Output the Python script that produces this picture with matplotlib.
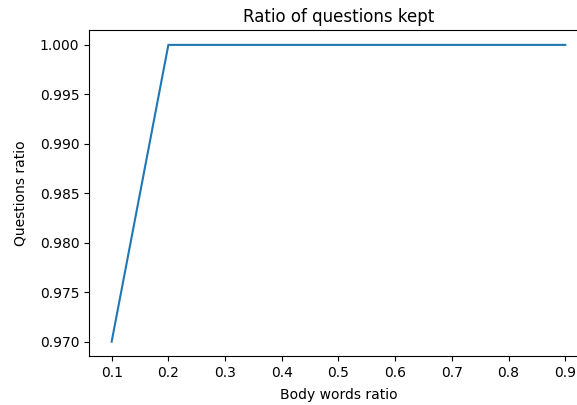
import matplotlib
matplotlib.use("Agg")
import matplotlib.pyplot as plt

body_words_ratio = [0.1, 0.2, 0.3, 0.4, 0.5, 0.6, 0.7, 0.8, 0.9]
questions_ratio = [0.970, 1.0, 1.0, 1.0, 1.0, 1.0, 1.0, 1.0, 1.0]

fig = plt.figure(figsize=(5.77, 4.05), dpi=100)
ax = fig.add_axes([0.1542, 0.1198, 0.8648, 0.806])
ax.plot(body_words_ratio, questions_ratio, color="#1f77b4")
ax.set_title("Ratio of questions kept")
ax.set_xlabel("Body words ratio", labelpad=5.5)
ax.set_ylabel("Questions ratio", labelpad=8.5)
ax.set_yticks([0.970, 0.975, 0.980, 0.985, 0.990, 0.995, 1.000])
ax.set_yticklabels(["0.970", "0.975", "0.980", "0.985", "0.990", "0.995", "1.000"])
fig.savefig("out.png", dpi=100)
